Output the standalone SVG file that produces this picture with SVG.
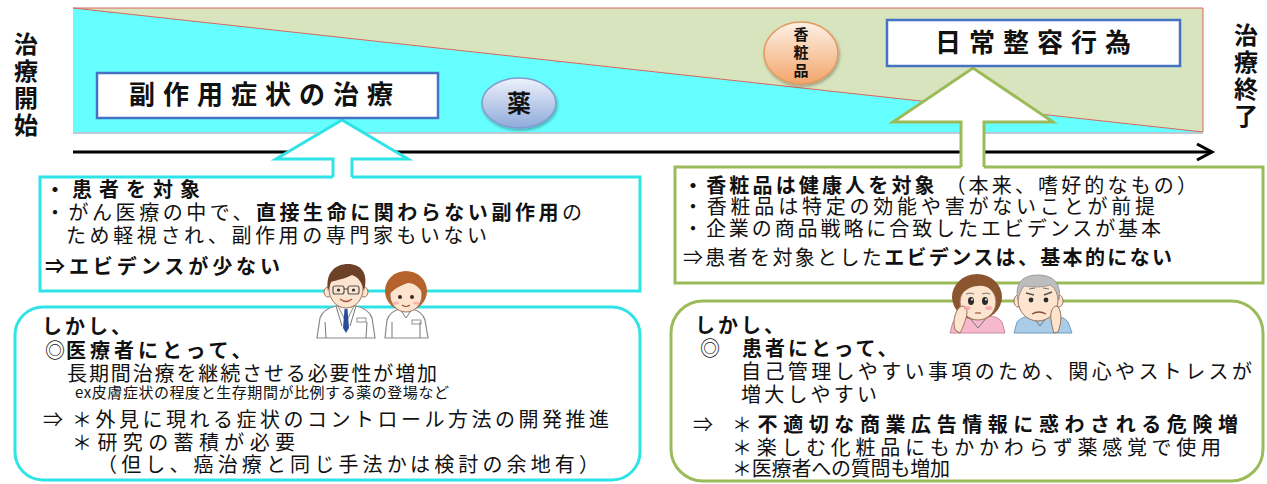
<svg xmlns="http://www.w3.org/2000/svg" width="1267" height="484" viewBox="0 0 1267 484">
<defs>
  <linearGradient id="gKusuri" x1="0" y1="0" x2="0" y2="1">
    <stop offset="0" stop-color="#eef2fb"/>
    <stop offset="1" stop-color="#8eaadb"/>
  </linearGradient>
  <linearGradient id="gKosho" x1="0" y1="0" x2="0" y2="1">
    <stop offset="0" stop-color="#fdf1e7"/>
    <stop offset="1" stop-color="#f3a56a"/>
  </linearGradient>
  <filter id="soft" x="-20%" y="-20%" width="140%" height="150%">
    <feDropShadow dx="1" dy="2" stdDeviation="1.5" flood-color="#000" flood-opacity="0.3"/>
  </filter>
</defs>
<style>
  text { font-family: "Noto Sans CJK JP", "Noto Sans", sans-serif; fill: #111; }
  .body { font-size: 20px; letter-spacing: 3px; }
  .small { font-size: 15px; }
  .b { font-weight: bold; }
  .title { font-size: 26px; font-weight: bold; letter-spacing: 8px; }
  .side { font-size: 24px; font-weight: bold; text-anchor: middle; }
  .label { fill: #fff; stroke: #4472c4; stroke-width: 2.5; }
  .cy { fill: none; stroke: #2fe3e6; stroke-width: 3; }
  .gr { fill: none; stroke: #9bbb59; stroke-width: 3; }
  .skin { fill: #fde4cf; stroke: #9a7158; stroke-width: 1; }
  .line { fill: none; stroke: #777; stroke-width: 1; }
</style>

<!-- timeline band: medicine share shrinks, daily care grows -->
<g id="band">
  <rect x="73" y="8" width="1130" height="124" fill="#66ffff"/>
  <polygon points="73,8 1203,8 1203,132" fill="#d7e4bd" stroke="#d9665c" stroke-width="1"/>
  <line x1="73" y1="133" x2="1203" y2="133" stroke="#a9b9c4" stroke-width="1.5"/>
</g>

<!-- time axis -->
<g id="axis">
  <line x1="73" y1="152" x2="1210" y2="152" stroke="#000" stroke-width="3"/>
  <polyline points="1197,144 1212,152 1197,160" fill="none" stroke="#000" stroke-width="3"/>
</g>

<g id="start-label">
  <text class="side" x="26" y="53">治</text>
  <text class="side" x="26" y="80">療</text>
  <text class="side" x="26" y="107">開</text>
  <text class="side" x="26" y="134">始</text>
</g>
<g id="end-label">
  <text class="side" x="1246" y="44">治</text>
  <text class="side" x="1246" y="71">療</text>
  <text class="side" x="1246" y="98">終</text>
  <text class="side" x="1246" y="125">了</text>
</g>

<!-- connectors: block arrows from the boxes up to the band -->
<g id="connectors">
  <path d="M333,177 V159 H276 L342,120 L408,159 H352 V177" fill="#fff" stroke="#2fe3e6" stroke-width="3"/>
  <path d="M961,167 V122 H893 L973,68 L1053,122 H984 V167" fill="#fff" stroke="#9bbb59" stroke-width="3"/>
</g>

<g id="side-effect-treatment">
  <rect x="97" y="73" width="341" height="45" class="label"/>
  <text class="title" x="129" y="104">副作用症状の治療</text>
</g>

<g id="medicine">
  <ellipse cx="519" cy="103" rx="37" ry="25" fill="url(#gKusuri)" stroke="#7f9ccf" stroke-width="1.5" filter="url(#soft)"/>
  <text x="519" y="112" font-size="24" font-weight="bold" text-anchor="middle">薬</text>
</g>

<g id="cosmetics">
  <ellipse cx="801" cy="53" rx="37" ry="31" fill="url(#gKosho)" stroke="#e39a62" stroke-width="1.5" filter="url(#soft)"/>
  <text x="801" y="40" font-size="15" font-weight="bold" text-anchor="middle">香</text>
  <text x="801" y="58" font-size="15" font-weight="bold" text-anchor="middle">粧</text>
  <text x="801" y="76" font-size="15" font-weight="bold" text-anchor="middle">品</text>
</g>

<g id="daily-care">
  <rect x="887" y="20" width="293" height="46" class="label"/>
  <text class="title" x="935" y="52">日常整容行為</text>
</g>

<!-- left: treatment of side effects -->
<g id="side-effect-facts">
  <path d="M352,177 H640 V291 H40 V177 H333" class="cy"/>
  <text class="body b" x="45" y="197" textLength="158">・患者を対象</text>
  <text class="body" x="45" y="220" textLength="540">・がん医療の中で、<tspan class="b">直接生命に関わらない副作用</tspan>の</text>
  <text class="body" x="66" y="243" textLength="424">ため軽視され、副作用の専門家もいない</text>
  <text class="body b" x="45" y="274" textLength="238">⇒エビデンスが少ない</text>
</g>

<g id="side-effect-needs">
  <rect x="15" y="307" width="625" height="173" rx="28" class="cy"/>
  <text class="body b" x="42" y="334">しかし、</text>
  <text class="body" x="45" y="358">◎<tspan class="b" x="66" style="letter-spacing:4px">医療者にとって、</tspan></text>
  <text class="body" x="67" y="381" textLength="373">長期間治療を継続させる必要性が増加</text>
  <text class="small" x="75" y="398" textLength="374">ex皮膚症状の程度と生存期間が比例する薬の登場など</text>
  <text class="body" x="43" y="427">⇒</text>
  <text class="body" x="72" y="427" textLength="540">＊外見に現れる症状のコントロール方法の開発推進</text>
  <text class="body" x="72" y="450" textLength="226">＊研究の蓄積が必要</text>
  <text class="body" x="97" y="472" textLength="505">（但し、癌治療と同じ手法かは検討の余地有）</text>
</g>

<!-- right: daily grooming / cosmetics -->
<g id="cosmetics-facts">
  <path d="M984,167 H1263 V283 H675 V167 H961" class="gr"/>
  <text class="body" x="683" y="193" textLength="517"><tspan class="b">・香粧品は健康人を対象</tspan> （本来、嗜好的なもの）</text>
  <text class="body" x="683" y="214" textLength="475">・香粧品は特定の効能や害がないことが前提</text>
  <text class="body" x="683" y="236" textLength="481">・企業の商品戦略に合致したエビデンスが基本</text>
  <text class="body" x="683" y="265" textLength="492">⇒患者を対象とした<tspan class="b">エビデンスは、基本的にない</tspan></text>
</g>

<g id="cosmetics-risks">
  <rect x="671" y="301" width="592" height="180" rx="32" class="gr"/>
  <text class="body b" x="695" y="333">しかし、</text>
  <text class="body" x="700" y="356">◎<tspan class="b" x="742">患者にとって、</tspan></text>
  <text class="body" x="741" y="379" textLength="514">自己管理しやすい事項のため、関心やストレスが</text>
  <text class="body" x="741" y="402" textLength="139">増大しやすい</text>
  <text class="body" x="693" y="432">⇒</text>
  <text class="body" x="732" y="432" textLength="509">＊<tspan class="b">不適切な商業広告情報に惑わされる危険増</tspan></text>
  <text class="body" x="732" y="455" textLength="492">＊楽しむ化粧品にもかかわらず薬感覚で使用</text>
  <text class="body" x="732" y="476" textLength="221">＊医療者への質問も増加</text>
</g>

<!-- illustrations -->
<g id="doctor">
  <path d="M317,338 L320,318 Q323,309 336,306 L356,306 Q369,309 372,318 L375,338 Z" fill="#fff" stroke="#8a8a8a" stroke-width="1.2"/>
  <path d="M338,306 L346,322 L354,306 Z" fill="#fff" stroke="#8a8a8a"/>
  <path d="M344.5,309 L347.5,309 L349,328 L346,333 L343,328 Z" fill="#2b4c9b"/>
  <path d="M336,306 L342,326 M356,306 L350,326" class="line"/>
  <path d="M325,322 L326,338 M367,322 L366,338" class="line"/>
  <rect x="357" y="318" width="9" height="4" fill="#fff" stroke="#777" stroke-width="0.8"/>
  <rect x="340" y="300" width="12" height="8" fill="#fde4cf"/>
  <ellipse cx="328" cy="292" rx="4" ry="5" class="skin"/>
  <ellipse cx="364" cy="292" rx="4" ry="5" class="skin"/>
  <ellipse cx="346" cy="289" rx="17" ry="19" class="skin"/>
  <path d="M328,291 C325,272 336,264 348,264 C361,264 369,273 364,291 C362,282 358,277 352,275 C345,279 336,280 331,282 C330,285 329,288 328,291 Z" fill="#6d4028"/>
  <rect x="333" y="286" width="11" height="8" rx="2" fill="none" stroke="#555" stroke-width="1.2"/>
  <rect x="348" y="286" width="11" height="8" rx="2" fill="none" stroke="#555" stroke-width="1.2"/>
  <line x1="344" y1="289" x2="348" y2="289" stroke="#555" stroke-width="1.2"/>
  <circle cx="338.5" cy="290" r="1.6" fill="#333"/>
  <circle cx="353.5" cy="290" r="1.6" fill="#333"/>
  <path d="M340,299 Q346,304 352,299" fill="none" stroke="#a0523c" stroke-width="1.3"/>
</g>

<g id="nurse">
  <path d="M385,338 L387,320 Q390,311 400,309 L412,309 Q422,311 425,320 L428,338 Z" fill="#fff" stroke="#8a8a8a" stroke-width="1.2"/>
  <path d="M400,309 L406,318 L412,309" class="line"/>
  <rect x="412" y="320" width="9" height="4" fill="#fff" stroke="#777" stroke-width="0.8"/>
  <path d="M392,322 L392,338 M420,322 L420,338" class="line"/>
  <rect x="401" y="302" width="10" height="8" fill="#fde4cf"/>
  <ellipse cx="406" cy="291" rx="21" ry="20" fill="#b5622c"/>
  <ellipse cx="406" cy="295" rx="16" ry="17" class="skin"/>
  <path d="M388,296 C386,280 395,272 406,272 C418,272 426,280 424,296 C420,287 414,283 408,283 C402,285 394,288 388,296 Z" fill="#b5622c"/>
  <circle cx="400" cy="297" r="2" fill="#3a2a20"/>
  <circle cx="412" cy="297" r="2" fill="#3a2a20"/>
  <ellipse cx="396" cy="303" rx="3" ry="1.6" fill="#f5a0a0" opacity="0.7"/>
  <ellipse cx="416" cy="303" rx="3" ry="1.6" fill="#f5a0a0" opacity="0.7"/>
  <path d="M402,305 Q406,308 410,305" fill="none" stroke="#a0523c" stroke-width="1.2"/>
</g>

<g id="patient-woman">
  <path d="M950,333 L953,322 Q958,316 968,316 L988,316 Q998,316 1002,322 L1005,333 Z" fill="#f5b8cc" stroke="#c98a9c" stroke-width="1"/>
  <path d="M968,316 L978,328 L988,316" class="line"/>
  <ellipse cx="977" cy="297" rx="25" ry="23" fill="#8b5530"/>
  <ellipse cx="978" cy="302" rx="18" ry="18" class="skin"/>
  <path d="M957,300 C955,282 966,275 978,275 C990,275 1000,283 998,300 C994,290 988,285 978,286 C970,286 962,292 957,300 Z" fill="#8b5530"/>
  <path d="M955,330 C952,320 956,308 962,306 C967,306 968,312 966,318 C964,324 962,330 960,333 Z" class="skin"/>
  <ellipse cx="971" cy="301" rx="3" ry="4" fill="#2b2b2b"/>
  <ellipse cx="985" cy="301" rx="3" ry="4" fill="#2b2b2b"/>
  <circle cx="972" cy="299.5" r="1" fill="#fff"/>
  <circle cx="986" cy="299.5" r="1" fill="#fff"/>
  <path d="M966,294 Q970,292 974,294 M982,294 Q986,292 990,294" class="line"/>
  <ellipse cx="967" cy="308" rx="3.5" ry="2" fill="#f59aa8" opacity="0.7"/>
  <ellipse cx="989" cy="308" rx="3.5" ry="2" fill="#f59aa8" opacity="0.7"/>
  <path d="M975,313 L981,313" stroke="#a0523c" stroke-width="1.2"/>
</g>

<g id="patient-man">
  <path d="M1014,333 L1017,322 Q1022,316 1032,316 L1052,316 Q1064,316 1068,322 L1072,333 Z" fill="#a9cde8" stroke="#6f9cc0" stroke-width="1"/>
  <path d="M1032,316 L1040,326 L1048,316" class="line"/>
  <ellipse cx="1018" cy="301" rx="4" ry="6" class="skin"/>
  <ellipse cx="1059" cy="301" rx="4" ry="6" class="skin"/>
  <ellipse cx="1038" cy="300" rx="20" ry="21" class="skin"/>
  <path d="M1018,300 C1014,282 1024,275 1038,275 C1052,275 1062,282 1059,300 C1057,292 1054,287 1050,285 C1042,288 1030,287 1024,286 C1021,290 1019,295 1018,300 Z" fill="#bdbdbd" stroke="#8f8f8f" stroke-width="0.8"/>
  <path d="M1058,332 C1062,322 1062,310 1057,306 C1052,306 1050,313 1051,320 C1052,326 1053,330 1054,333 Z" class="skin"/>
  <path d="M1026,293 L1034,295 M1044,295 L1052,292" stroke="#555" stroke-width="1.5"/>
  <circle cx="1031" cy="300" r="2.4" fill="#2b2b2b"/>
  <circle cx="1046" cy="300" r="2.4" fill="#2b2b2b"/>
  <path d="M1032,314 Q1039,310 1046,314" fill="none" stroke="#8a4a36" stroke-width="1.3"/>
  <path d="M1029,289 L1035,288 M1043,288 L1049,289" class="line"/>
</g>
</svg>
